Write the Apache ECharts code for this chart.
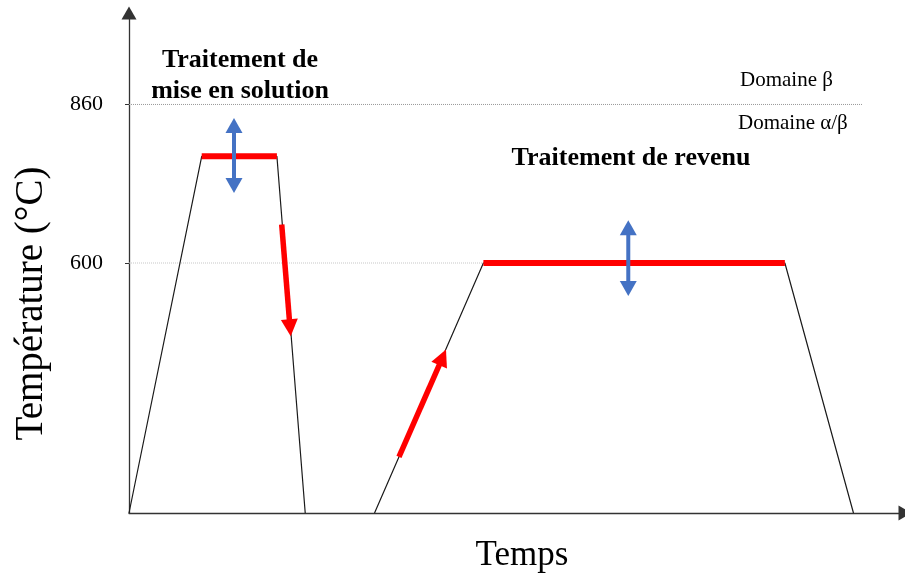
<!DOCTYPE html>
<html><head><meta charset="utf-8">
<script src="https://cdn.jsdelivr.net/npm/echarts@6/dist/echarts.min.js"></script>
<style>html,body{margin:0;padding:0;background:#fff}#c{width:905px;height:578px}</style>
</head><body><div id="c"></div>
<script>
// ---- data (time in arbitrary units, temperature in °C) ----
const yTickValues = [600, 860];
const solutionTime = [0, 9.37, 19.06, 22.71];
const solutionTemp = [190, 775, 775, 190];
const temperingTime = [31.64, 45.67, 84.52, 93.36];
const temperingTemp = [190, 600, 600, 190];
const holdSolution = [[9.37, 775], [19.06, 775]];
const holdTempering = [[45.67, 600], [84.52, 600]];
const betaTransusLine = [[0, 860], [94.46, 860]];
const temperingRefLine = [[0, 600], [45.67, 600]];
// arrows: [tStart, TStart, tEnd(tip), TEnd(tip)]
const rateArrows = [[19.68, 663, 20.84, 480], [34.79, 282, 40.85, 458]];
const rangeArrows = [[13.53, 838, 13.53, 715], [64.34, 670, 64.34, 546]];

const SERIF = '"Liberation Serif","Times New Roman",serif';

function zip(a, b) { return a.map((v, i) => [v, b[i]]); }

function arrowRender(headL, headW, shaftW, color, both) {
  return function (params, api) {
    const p1 = api.coord([api.value(0), api.value(1)]);
    const p2 = api.coord([api.value(2), api.value(3)]);
    const dx = p2[0] - p1[0], dy = p2[1] - p1[1];
    const len = Math.hypot(dx, dy);
    const ux = dx / len, uy = dy / len, nx = -uy, ny = ux;
    const head = (tip, sx, sy) => [
      [tip[0], tip[1]],
      [tip[0] - sx * headL + nx * headW / 2, tip[1] - sy * headL + ny * headW / 2],
      [tip[0] - sx * headL - nx * headW / 2, tip[1] - sy * headL - ny * headW / 2]
    ];
    const s1 = both ? [p1[0] + ux * headL * 0.9, p1[1] + uy * headL * 0.9] : p1;
    const s2 = [p2[0] - ux * headL * 0.9, p2[1] - uy * headL * 0.9];
    const children = [
      { type: 'line', shape: { x1: s1[0], y1: s1[1], x2: s2[0], y2: s2[1] }, style: { stroke: color, lineWidth: shaftW } },
      { type: 'polygon', shape: { points: head(p2, ux, uy) }, style: { fill: color } }
    ];
    if (both) children.push({ type: 'polygon', shape: { points: head(p1, -ux, -uy) }, style: { fill: color } });
    return { type: 'group', children: children };
  };
}

const chart = echarts.init(document.getElementById('c'), null, { renderer: 'canvas' });
const axisLineStyle = { color: '#333', width: 1.3 };
chart.setOption({
  animation: false,
  backgroundColor: '#fff',
  grid: { left: 129, right: 0, top: 13, bottom: 64 },
  xAxis: {
    type: 'value', min: 0, max: 100,
    name: 'Temps', nameLocation: 'middle', nameGap: 25,
    nameTextStyle: { fontFamily: SERIF, fontSize: 35, color: '#000', padding: [0, 0, 0, 10] },
    axisLine: { show: true, onZero: false, symbol: ['none', 'triangle'], symbolSize: [15, 13], lineStyle: axisLineStyle },
    axisTick: { show: false }, axisLabel: { show: false }, splitLine: { show: false }
  },
  yAxis: {
    type: 'value', min: 190, max: 1010,
    name: 'Température (°C)', nameLocation: 'middle', nameGap: 78, nameRotate: 90,
    nameTextStyle: { fontFamily: SERIF, fontSize: 39, color: '#000', padding: [0, 81, 0, 0] },
    axisLine: { show: true, symbol: ['none', 'triangle'], symbolSize: [15, 13], lineStyle: axisLineStyle },
    axisTick: { show: true, customValues: yTickValues, length: 4, lineStyle: { color: '#333' } },
    axisLabel: { customValues: yTickValues, fontFamily: SERIF, fontSize: 22, color: '#000', margin: 26 },
    splitLine: { show: false }
  },
  series: [
    { type: 'line', data: betaTransusLine, symbol: 'none', silent: true, z: 1,
      lineStyle: { color: '#999', width: 1, type: [1, 1] } },
    { type: 'line', data: temperingRefLine, symbol: 'none', silent: true, z: 1,
      lineStyle: { color: '#c8c8c8', width: 1, type: [1, 1] } },
    { type: 'line', data: zip(solutionTime, solutionTemp), symbol: 'none', z: 2,
      lineStyle: { color: '#1a1a1a', width: 1.2 } },
    { type: 'line', data: zip(temperingTime, temperingTemp), symbol: 'none', z: 2,
      lineStyle: { color: '#1a1a1a', width: 1.2 } },
    { type: 'line', data: holdSolution, symbol: 'none', z: 3,
      lineStyle: { color: '#ff0000', width: 6, cap: 'butt' } },
    { type: 'line', data: holdTempering, symbol: 'none', z: 3,
      lineStyle: { color: '#ff0000', width: 6, cap: 'butt' } },
    { type: 'custom', data: rateArrows, encode: { x: [0, 2], y: [1, 3] }, z: 4,
      renderItem: arrowRender(17, 17, 5.5, '#ff0000', false) },
    { type: 'custom', data: rangeArrows, encode: { x: [0, 2], y: [1, 3] }, z: 5,
      renderItem: arrowRender(15, 17, 4, '#4472c4', true) }
  ],
  graphic: [
    { type: 'text', x: 240, y: 76, z: 10,
      style: { text: 'Traitement de\nmise en solution', font: 'bold 26px ' + SERIF, fill: '#000',
        lineHeight: 31, textAlign: 'center', textVerticalAlign: 'middle', align: 'center', verticalAlign: 'middle' } },
    { type: 'text', x: 631, y: 158, z: 10,
      style: { text: 'Traitement de revenu', font: 'bold 26px ' + SERIF, fill: '#000',
        textAlign: 'center', textVerticalAlign: 'middle', align: 'center', verticalAlign: 'middle' } },
    { type: 'text', x: 740, y: 80, z: 10,
      style: { text: 'Domaine β', font: '21px ' + SERIF, fill: '#000',
        textAlign: 'left', textVerticalAlign: 'middle', align: 'left', verticalAlign: 'middle' } },
    { type: 'text', x: 738, y: 123, z: 10,
      style: { text: 'Domaine α/β', font: '21px ' + SERIF, fill: '#000',
        textAlign: 'left', textVerticalAlign: 'middle', align: 'left', verticalAlign: 'middle' } }
  ]
});
</script>
</body></html>
